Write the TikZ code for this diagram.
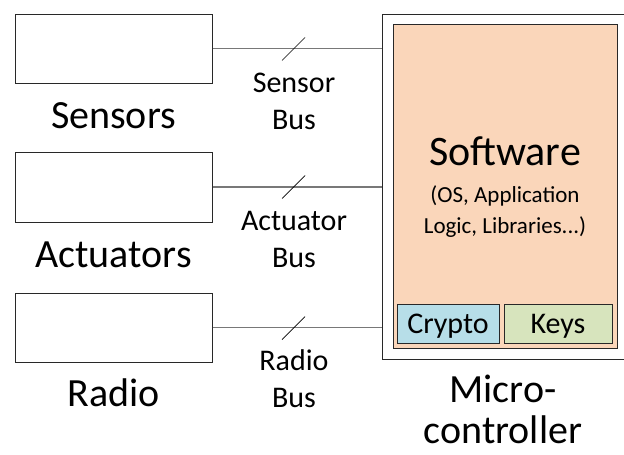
\documentclass[tikz,border=0pt]{standalone}
\usepackage{fontspec}
\setmainfont{Carlito}
\definecolor{swfill}{RGB}{250,214,186}
\definecolor{cryptofill}{RGB}{183,222,232}
\definecolor{keysfill}{RGB}{215,228,189}
\definecolor{busgray}{RGB}{120,120,120}
\definecolor{edge}{RGB}{40,40,40}
\begin{document}
\begin{tikzpicture}[x=1pt,y=-1pt,
  devbox/.style={draw=edge,line width=1pt,fill=white,inner sep=0pt,minimum width=197pt},
  busline/.style={draw=busgray,line width=1.2pt},
  slashln/.style={draw=black,line width=0.7pt},
  biglbl/.style={font=\fontsize{40}{41}\selectfont,inner sep=0pt,align=center,anchor=base},
  buslbl/.style={font=\fontsize{30}{37}\selectfont,inner sep=0pt,align=center,anchor=base},
  smallbox/.style={draw=edge,line width=0.9pt,inner sep=0pt,minimum height=39pt,
    font=\fontsize{30}{32}\selectfont,text height=22pt,text depth=3pt}
]
\useasboundingbox (0,0) rectangle (624,455);

% devices
\node[devbox,minimum height=69pt] (sens) at (113.5,48.5) {};
\node[devbox,minimum height=70pt] (act) at (113.5,187) {};
\node[devbox,minimum height=69pt] (rad) at (113.5,327.5) {};

\node[biglbl] (senslbl) at (113.5,128) {Sensors};
\node[biglbl] (actlbl) at (113.5,267) {Actuators};
\node[biglbl] (radlbl) at (113.5,406) {Radio};

% microcontroller
\node[draw=edge,line width=1pt,fill=white,inner sep=0pt,minimum width=248pt,minimum height=345pt] (mcu) at (506,186.5) {};
\node[draw=edge,line width=0.9pt,fill=swfill,inner sep=0pt,minimum width=224pt,minimum height=324pt] (sw) at (505,186) {};
\node[inner sep=0pt,anchor=base,font=\fontsize{42}{44}\selectfont] (swt) at (505,165) {Software};
\node[inner sep=0pt,anchor=base,align=center,font=\fontsize{23}{31}\selectfont] (swd) at (505,233) {(OS, Application\\Logic, Libraries...)};
\node[smallbox,fill=cryptofill,minimum width=102pt] (crypto) at (448,323.5) {Crypto};
\node[smallbox,fill=keysfill,minimum width=108pt] (keys) at (558,323.5) {Keys};

\node[biglbl] (mculbl) at (503,443) {Micro-\\controller};

% buses
\draw[busline] (sens.east) -- (mcu.west |- sens.east);
\draw[busline] (act.east) -- (mcu.west |- act.east);
\draw[busline] (rad.east) -- (mcu.west |- rad.east);

\coordinate (s1) at (293.5,49);
\coordinate (s2) at (293.5,187);
\coordinate (s3) at (293.5,328);
\draw[slashln] (s1) +(-11.5,11.5) -- +(11.5,-11.5);
\draw[slashln] (s2) +(-11.5,11.5) -- +(11.5,-11.5);
\draw[slashln] (s3) +(-11.5,11.5) -- +(11.5,-11.5);

\node[buslbl] (sbl) at (294,129) {Sensor\\Bus};
\node[buslbl] (abl) at (294,267) {Actuator\\Bus};
\node[buslbl] (rbl) at (294,407) {Radio\\Bus};
\end{tikzpicture}
\end{document}
